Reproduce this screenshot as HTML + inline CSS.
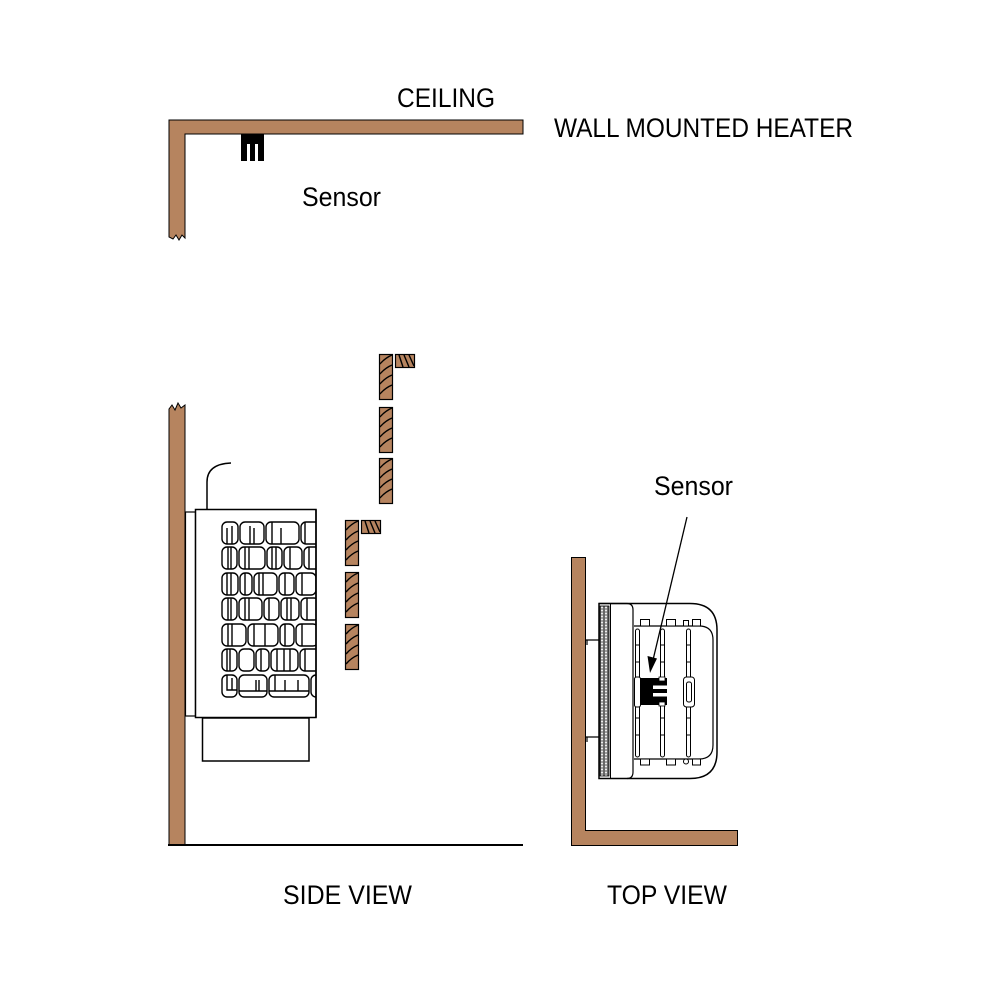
<!DOCTYPE html>
<html><head><meta charset="utf-8"><style>
html,body{margin:0;padding:0;background:#fff;}
svg{display:block;}
text{font-family:"Liberation Sans",sans-serif;fill:#000;}
</style></head><body>
<svg width="1000" height="1000" viewBox="0 0 1000 1000" xmlns="http://www.w3.org/2000/svg">
<defs>
<clipPath id="bodyclip"><rect x="196" y="510" width="120" height="207"/></clipPath>
<pattern id="perf" x="600" y="606" width="4" height="3" patternUnits="userSpaceOnUse">
<rect width="4" height="3" fill="#666"/><circle cx="2" cy="1.5" r="1.1" fill="#eee"/>
</pattern>
</defs>

<!-- Labels -->
<text x="397" y="107" font-size="27" textLength="98" lengthAdjust="spacingAndGlyphs">CEILING</text>
<text x="554" y="137" font-size="27" textLength="299" lengthAdjust="spacingAndGlyphs">WALL MOUNTED HEATER</text>
<text x="302" y="206" font-size="27" textLength="79" lengthAdjust="spacingAndGlyphs">Sensor</text>
<text x="654" y="495" font-size="27" textLength="79" lengthAdjust="spacingAndGlyphs">Sensor</text>
<text x="283" y="904" font-size="27" textLength="129" lengthAdjust="spacingAndGlyphs">SIDE VIEW</text>
<text x="607" y="904" font-size="27" textLength="120" lengthAdjust="spacingAndGlyphs">TOP VIEW</text>

<!-- Ceiling L -->
<path d="M169,237 L169,120 L523,120 L523,134 L185,134 L185,238 L182,235 L179,240 L176,235 L173,239 L169,237 Z" fill="#b6845f" stroke="#000" stroke-width="1"/>
<!-- Ceiling sensor -->
<rect x="241" y="134" width="23" height="10" fill="#000"/>
<rect x="241" y="143" width="6" height="18" fill="#000"/>
<rect x="250" y="143" width="5" height="18" fill="#000"/>
<rect x="258" y="143" width="6" height="18" fill="#000"/>

<!-- Side wall -->
<path d="M169,845 L169,409 L172,405 L175,410 L178,403 L181,408 L185,405 L185,845" fill="#b6845f" stroke="#000" stroke-width="1"/>
<line x1="168" y1="845" x2="523" y2="845" stroke="#000" stroke-width="2"/>

<!-- Heater side view -->
<path d="M207,509 L207,482 Q207,464 231,463" fill="none" stroke="#000" stroke-width="1.5"/>
<rect x="185.5" y="512" width="10" height="204" fill="#fff" stroke="#000" stroke-width="1.2"/>
<rect x="195.5" y="509.5" width="120.5" height="208" fill="#fff" stroke="#000" stroke-width="1.5"/>
<rect x="202.5" y="718" width="106.5" height="43" fill="#fff" stroke="#000" stroke-width="1.5"/>
<g clip-path="url(#bodyclip)" fill="none" stroke="#000" stroke-width="1.4">
<!-- Row 1 -->
<rect x="222" y="522" width="16" height="22" rx="5"/><line x1="227" y1="528" x2="227" y2="544"/><line x1="232" y1="526" x2="232" y2="544"/>
<rect x="240" y="522" width="24" height="22" rx="5"/><line x1="250" y1="526" x2="250" y2="544"/><line x1="254" y1="528" x2="254" y2="544"/>
<rect x="266" y="522" width="33" height="22" rx="5"/><line x1="272" y1="522" x2="272" y2="544"/><line x1="281" y1="528" x2="281" y2="544"/>
<rect x="301" y="522" width="22" height="22" rx="5"/><line x1="305" y1="522" x2="305" y2="544"/>
<!-- Row 2 -->
<rect x="222" y="547" width="15" height="22" rx="5"/><line x1="228" y1="547" x2="228" y2="569"/><line x1="231" y1="547" x2="231" y2="569"/>
<rect x="239" y="547" width="26" height="22" rx="5"/><line x1="245" y1="547" x2="245" y2="569"/><line x1="249" y1="547" x2="249" y2="569"/>
<rect x="267" y="547" width="15" height="22" rx="5"/><line x1="272" y1="547" x2="272" y2="569"/><line x1="276" y1="547" x2="276" y2="569"/>
<rect x="284" y="547" width="18" height="22" rx="5"/><line x1="290" y1="547" x2="290" y2="569"/>
<rect x="304" y="547" width="16" height="22" rx="5"/><line x1="309" y1="547" x2="309" y2="569"/>
<!-- Row 3 -->
<rect x="222" y="573" width="16" height="22" rx="5"/><line x1="227" y1="573" x2="227" y2="595"/><line x1="231" y1="573" x2="231" y2="595"/>
<rect x="240" y="573" width="12" height="22" rx="5"/><line x1="245" y1="573" x2="245" y2="595"/>
<rect x="254" y="573" width="23" height="22" rx="5"/><line x1="259" y1="573" x2="259" y2="595"/><line x1="263" y1="573" x2="263" y2="595"/>
<rect x="279" y="573" width="15" height="22" rx="5"/><line x1="285" y1="573" x2="285" y2="595"/>
<rect x="296" y="573" width="20" height="22" rx="5"/><line x1="302" y1="573" x2="302" y2="595"/>
<!-- Row 4 -->
<rect x="222" y="598" width="15" height="22" rx="5"/><line x1="228" y1="598" x2="228" y2="620"/><line x1="231" y1="598" x2="231" y2="620"/>
<rect x="239" y="598" width="23" height="22" rx="5"/><line x1="245" y1="598" x2="245" y2="620"/><line x1="249" y1="598" x2="249" y2="620"/>
<rect x="264" y="598" width="15" height="22" rx="5"/><line x1="269" y1="598" x2="269" y2="620"/>
<rect x="281" y="598" width="18" height="22" rx="5"/><line x1="287" y1="598" x2="287" y2="620"/><line x1="291" y1="598" x2="291" y2="620"/>
<rect x="301" y="598" width="18" height="22" rx="5"/><line x1="307" y1="598" x2="307" y2="620"/>
<!-- Row 5 -->
<rect x="222" y="624" width="24" height="22" rx="5"/><line x1="228" y1="624" x2="228" y2="646"/><line x1="232" y1="624" x2="232" y2="646"/>
<rect x="248" y="624" width="30" height="22" rx="5"/><line x1="254" y1="624" x2="254" y2="646"/><line x1="265" y1="624" x2="265" y2="646"/>
<rect x="280" y="624" width="14" height="22" rx="5"/><line x1="285" y1="624" x2="285" y2="646"/>
<rect x="296" y="624" width="22" height="22" rx="5"/><line x1="302" y1="624" x2="302" y2="646"/>
<!-- Row 6 -->
<rect x="222" y="649" width="15" height="22" rx="5"/><line x1="227" y1="649" x2="227" y2="671"/><line x1="230" y1="649" x2="230" y2="671"/>
<rect x="239" y="649" width="15" height="22" rx="5"/>
<rect x="256" y="649" width="13" height="22" rx="5"/><line x1="261" y1="649" x2="261" y2="671"/>
<rect x="271" y="649" width="27" height="22" rx="5"/><line x1="277" y1="649" x2="277" y2="671"/><line x1="284" y1="649" x2="284" y2="671"/><line x1="290" y1="649" x2="290" y2="671"/>
<rect x="300" y="649" width="20" height="22" rx="5"/><line x1="305" y1="649" x2="305" y2="671"/>
<!-- Row 7 -->
<rect x="222" y="675" width="15" height="22" rx="5"/><path d="M227,675 L227,690 L237,690"/><line x1="232" y1="678" x2="232" y2="690"/>
<rect x="239" y="675" width="28" height="22" rx="5"/><path d="M239,691 L267,691"/><line x1="256" y1="680" x2="256" y2="691"/><line x1="259" y1="680" x2="259" y2="691"/>
<rect x="269" y="675" width="40" height="22" rx="5"/><path d="M269,691 L309,691"/><line x1="275" y1="675" x2="275" y2="691"/><line x1="285" y1="680" x2="285" y2="691"/><line x1="298" y1="680" x2="298" y2="691"/>
<rect x="311" y="675" width="12" height="22" rx="5"/>
</g>
<line x1="316" y1="509.5" x2="316" y2="717.5" stroke="#000" stroke-width="1.5"/>

<!-- Slats -->
<g stroke="#000" stroke-width="1.2">
<g fill="#b6845f">
<rect x="379.5" y="354.5" width="13" height="45"/>
<rect x="395.5" y="354.5" width="19" height="13"/>
<rect x="379.5" y="407.5" width="13" height="45"/>
<rect x="379.5" y="458.5" width="13" height="45"/>
<rect x="345.5" y="520.5" width="13" height="45"/>
<rect x="361.5" y="520.5" width="19" height="13"/>
<rect x="345.5" y="572.5" width="13" height="45"/>
<rect x="345.5" y="624.5" width="13" height="45"/>
</g>
<g fill="none" stroke-width="1.4">
<path d="M380,364 Q385,358 392,355 M380,374 Q385,368 392,365 M380,384 Q385,378 392,375 M380,394 Q385,388 392,385"/>
<path d="M399,355 L403,367 M404,355 L409,367 M409,355 L414,366"/>
<path d="M380,417 Q385,411 392,408 M380,427 Q385,421 392,418 M380,437 Q385,431 392,428 M380,447 Q385,441 392,438"/>
<path d="M380,468 Q385,462 392,459 M380,478 Q385,472 392,469 M380,488 Q385,482 392,479 M380,498 Q385,492 392,489"/>
<path d="M346,530 Q351,524 358,521 M346,540 Q351,534 358,531 M346,550 Q351,544 358,541 M346,560 Q351,554 358,551"/>
<path d="M365,521 L369,533 M370,521 L375,533 M375,521 L380,532"/>
<path d="M346,582 Q351,576 358,573 M346,592 Q351,586 358,583 M346,602 Q351,596 358,593 M346,612 Q351,606 358,603"/>
<path d="M346,634 Q351,628 358,625 M346,644 Q351,638 358,635 M346,654 Q351,648 358,645 M346,664 Q351,658 358,655"/>
</g>
</g>

<!-- Top view wall -->
<path d="M571.5,557.5 L585.5,557.5 L585.5,830.5 L737.5,830.5 L737.5,845.5 L571.5,845.5 Z" fill="#b6845f" stroke="#000" stroke-width="1"/>
<path d="M586,640 L599,640 M587,640 L587,645 M586,737 L599,737 M587,737 L587,742" stroke="#000" stroke-width="1.2" fill="none"/>

<!-- Top view heater -->
<path d="M599,603.5 L690,603.5 Q717,603.5 717,630 L717,752 Q717,778.5 690,778.5 L599,778.5 Z" fill="#fff" stroke="#000" stroke-width="1.5"/>
<rect x="600" y="606" width="9" height="170" fill="url(#perf)" stroke="#000" stroke-width="0.8"/>
<line x1="610.5" y1="604" x2="610.5" y2="778" stroke="#000" stroke-width="1"/>
<path d="M599,603.5 L627,603.5 Q633,603.5 633,610 L633,772 Q633,778.5 627,778.5" fill="none" stroke="#000" stroke-width="1.2"/>
<!-- inner frame -->
<path d="M634,626 L699,626 Q713,626 713,640 L713,745 Q713,759 699,759 L634,759" fill="none" stroke="#000" stroke-width="1.2"/>
<!-- tabs -->
<g fill="#fff" stroke="#000" stroke-width="1">
<rect x="640.5" y="619.5" width="9" height="6.5"/>
<rect x="666.5" y="619.5" width="9" height="6.5"/>
<rect x="683.5" y="620.5" width="5" height="5.5"/>
<rect x="692.5" y="619.5" width="8" height="6.5"/>
<rect x="640.5" y="759" width="9" height="6"/>
<rect x="666.5" y="759" width="9" height="6"/>
<rect x="683.5" y="759" width="5" height="5" rx="2.5"/>
<rect x="692.5" y="759" width="8" height="6"/>
</g>
<!-- rails -->
<g fill="#fff" stroke="#000" stroke-width="1">
<rect x="635.5" y="629" width="4" height="128" rx="2"/>
<rect x="660.5" y="629" width="4" height="128" rx="2"/>
<rect x="686.5" y="629" width="4" height="128" rx="2"/>
</g>
<g stroke="#000" stroke-width="1">
<path d="M635,645 H640 M635,662 H640 M635,700 H640 M635,718 H640 M635,735 H640 M660,645 H665 M660,662 H665 M660,718 H665 M660,735 H665 M686,645 H691 M686,662 H691 M686,718 H691 M686,735 H691"/>
</g>
<!-- rail brackets near sensor -->
<rect x="634.5" y="677" width="6" height="30" rx="2" fill="#fff" stroke="#000" stroke-width="1"/>
<rect x="683.5" y="677" width="11" height="30" rx="3" fill="#fff" stroke="#000" stroke-width="1"/>
<rect x="686.5" y="682" width="5" height="20" rx="2" fill="#fff" stroke="#000" stroke-width="1"/>
<!-- sensor top view -->
<rect x="640" y="678" width="27" height="27" fill="#000"/>
<rect x="653" y="685.5" width="14" height="3.5" fill="#fff"/>
<rect x="653" y="693" width="14" height="3.5" fill="#fff"/>
<rect x="659" y="677" width="6" height="4" fill="#fff" stroke="#000" stroke-width="0.8"/>
<rect x="659" y="702" width="6" height="4" fill="#fff" stroke="#000" stroke-width="0.8"/>
<!-- arrow -->
<line x1="687" y1="517" x2="653" y2="660" stroke="#000" stroke-width="1.3"/>
<path d="M650,673 L647.5,656 L657,658.5 Z" fill="#000"/>
</svg>
</body></html>
